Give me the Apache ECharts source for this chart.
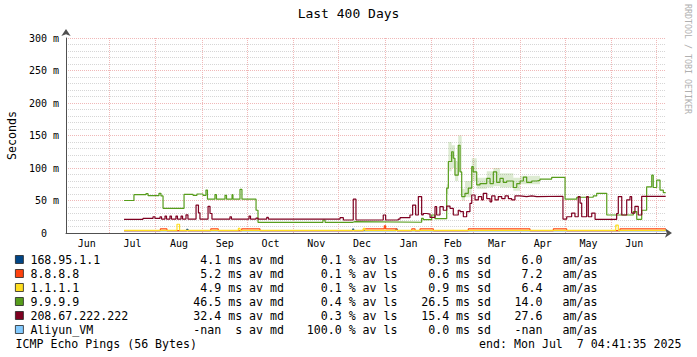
<!DOCTYPE html>
<html><head><meta charset="utf-8">
<script src="https://cdn.jsdelivr.net/npm/echarts@6/dist/echarts.min.js"></script>
<style>html,body{margin:0;padding:0;background:#fff}#c{width:697px;height:357px}</style>
</head><body><div id="c"></div>
<script>
const FONT = '"DejaVu Sans Mono", monospace';
// x values are days since 2024-06-01 00:00 (end = Mon Jul 7 2025 04:41)
const xStart = 1.2, xEnd = 401.2;
const monthStarts = [30, 61, 92, 122, 153, 183, 214, 245, 273, 304, 334, 365, 395];
const monthMids = [15, 45.5, 76.5, 107, 137.5, 168, 198.5, 229.5, 259, 288.5, 319, 349.5, 380];
const monthNames = ['Jun', 'Jul', 'Aug', 'Sep', 'Oct', 'Nov', 'Dec', 'Jan', 'Feb', 'Mar', 'Apr', 'May', 'Jun'];

const targetNames = ['168.95.1.1', '8.8.8.8', '1.1.1.1', '9.9.9.9', '208.67.222.222', 'Aliyun_VM'];
const targetColors = ['#004586', '#ff420e', '#ffde20', '#579d1c', '#7e0021', '#83caff'];

// median RTT in ms, [day, value] (value holds until next point)
const rtt168 = [[39.9,3.5],[81.7,5.7],[82.5,3.5],[192.3,6],[193,3.5],[221.2,6],[222,3.5],[401,3.5]];
const rtt8888 = [[39.9,3.8],[64.1,6.2],[68.5,3.8],[97.7,6.2],[102.7,3.8],[118.3,6.2],[130.5,3.8],[199.4,6.2],[213.4,11],[214.3,6.2],[221.7,3.8],[231.7,6.2],[233.9,3.8],[237.2,6.2],[246.1,3.8],[269.4,6.2],[310.5,3.8],[326.1,6.2],[335.0,3.8],[370.5,6.2],[401,6.2]];
const rtt1111 = [[39.9,4.1],[75.2,13.5],[76.9,4.1],[116.1,7],[117.2,4.1],[199.5,7],[200.5,4.1],[367.7,12],[369.4,4.1],[401,4.1]];
const rtt9999 = [[39.9,50],[46.5,59],[54.5,60.5],[55.9,57.5],[63.2,61],[64.5,57],[65.9,38],[79.9,59.5],[85.9,58],[88.5,60],[92.5,58],[94.5,66],[95.5,52],[100.5,59],[101.5,52],[107.2,58],[108.2,52],[111.9,59],[112.5,52],[117.2,67],[118.5,52],[127.9,35],[129.2,16.5],[172.5,20],[173.9,16.5],[192.5,17.5],[193.9,16.5],[238.3,22.6],[239.4,20.5],[245.0,27.7],[247.2,22],[255.0,69],[256.1,110],[258.3,125],[259.4,115],[260.5,89],[262.7,135],[263.9,94],[265.0,56],[267.2,61],[269.4,69],[271.7,102],[272.7,94],[275.0,74],[277.2,76],[281.7,84],[283.9,76],[286.1,94],[288.3,78],[290.5,84],[292.7,78],[295.0,80],[299.4,70],[301.7,76],[303.9,80],[306.1,86],[308.3,78],[311.7,80],[315.0,81],[317.2,83],[325.0,85.6],[333.9,52],[341.7,55],[352.7,57],[355.0,61],[361.7,27.7],[379.4,33],[381.7,21],[385.0,35],[388.3,71],[391.7,89],[392.7,70],[395.0,81.5],[397.2,66],[399.4,62],[401.0,62]];
const rtt2086 = [[39.9,21],[52.5,22.5],[59.2,25],[60.5,22.5],[63.9,25],[64.9,21.5],[67.2,26],[68.2,21.5],[70.5,26],[71.5,21.5],[74.5,26],[75.5,21.5],[77.9,26],[78.9,21.5],[81.2,28],[82.5,21.5],[87.9,43],[89.5,31],[90.5,21.5],[95.9,41],[97.2,30],[98.5,21.5],[110.5,25],[111.5,21.5],[123.2,26],[124.2,21.5],[127.9,23],[129.2,21.5],[135.0,24],[136.1,21.5],[183.9,23.6],[186.1,20],[192.7,52],[194.5,20],[212.7,27.7],[214.3,20],[222.7,21.5],[223.9,23.6],[230.5,27.7],[232.3,43],[234.3,27.7],[236.1,56],[238.3,28],[239.4,30],[241.7,29],[243.9,24],[247.2,40.5],[248.3,27.7],[250.5,40.5],[252.7,35],[255.0,41.5],[257.2,38],[259.4,27.7],[262.7,35],[263.9,33],[266.1,25],[268.3,32.8],[270.5,45.6],[271.7,58.5],[273.9,51],[276.1,56],[278.3,51],[279.4,61],[281.7,53],[283.9,48],[285.0,57],[287.2,51],[289.4,56],[291.7,53],[293.9,57],[296.1,53],[298.3,51],[300.5,57],[303.9,56],[308.3,57],[311.7,56],[315.0,56.5],[332.5,21.5],[335.0,25],[338.3,30.7],[340.5,25],[342.7,56],[343.9,46],[345.0,25],[348.3,56],[349.4,25],[351.7,30.7],[353.9,21],[368.3,30],[369.4,56],[371.7,27.7],[375.0,51],[377.2,56],[378.3,30.7],[380.5,41],[382.7,27.7],[385.0,56.5],[401.0,56.5]];
const rttAliyun = [];
// smoke (spread) of 9.9.9.9: [day, low ms, high ms]
const smoke9999 = [[255.0,60,75],[256.1,95,140],[258.3,100,135],[260.5,80,110],[262.7,95,150],[265.0,50,68],[267.2,55,80],[271.7,80,115],[275.0,68,85],[281.7,70,95],[286.1,72,100],[290.5,70,92],[299.4,65,85],[303.9,75,88],[317.2,75,88]];

const statMedian = ['4.1 ms av md', '5.2 ms av md', '4.9 ms av md', '46.5 ms av md', '32.4 ms av md', '-nan  s av md'];
const statLoss = ['0.1 % av ls', '0.1 % av ls', '0.1 % av ls', '0.4 % av ls', '0.3 % av ls', '100.0 % av ls'];
const statSd = ['0.3 ms sd', '0.6 ms sd', '0.9 ms sd', '26.5 ms sd', '15.4 ms sd', '0.0 ms sd'];
const statAmas = ['6.0', '7.2', '6.4', '14.0', '27.6', '-nan'];
const footerLeft = 'ICMP Echo Pings (56 Bytes)';
const footerRight = 'end: Mon Jul  7 04:41:35 2025';
const titleText = 'Last 400 Days';
const watermark = 'RRDTOOL / TOBI OETIKER';

const seriesData = [rtt168, rtt8888, rtt1111, rtt9999, rtt2086, rttAliyun];

const chart = echarts.init(document.getElementById('c'), null, {renderer: 'svg'});

// smoke segments: [dayFrom, dayTo, low, high]
const smokeSegs = smoke9999.slice(0, -1).map((r, i) => [r[0], smoke9999[i + 1][0], r[1], r[2]]);

const series = [{
  type: 'custom', silent: true, z: 1, data: smokeSegs,
  encode: {x: [0, 1], y: [2, 3]},
  renderItem: (params, api) => {
    const p0 = api.coord([api.value(0), api.value(3)]);
    const p1 = api.coord([api.value(1), api.value(2)]);
    return {type: 'rect', shape: {x: p0[0], y: p0[1], width: p1[0] - p0[0], height: p1[1] - p0[1]},
            style: {fill: 'rgba(87,157,28,0.2)'}};
  }
}];
targetNames.forEach((n, i) => {
  series.push({name: n, type: 'line', step: 'end', symbol: 'none', silent: true, z: 2,
    data: seriesData[i], color: targetColors[i],
    lineStyle: {color: targetColors[i], width: 1.2}, itemStyle: {color: targetColors[i]}});
});

const graphic = [];
const rowY0 = 259.5, rowStep = 14;
const txt = (x, y, text, align, size, color) => ({type: 'text', x: x, y: y, silent: true,
  style: {text: text, fill: color || '#000', font: size + 'px ' + FONT, textAlign: align, align: align,
          textVerticalAlign: 'middle', verticalAlign: 'middle'}});
targetNames.forEach((n, i) => {
  const y = rowY0 + rowStep * i;
  graphic.push(txt(284, y, statMedian[i], 'right', 11.6));
  graphic.push(txt(397.5, y, statLoss[i], 'right', 11.6));
  graphic.push(txt(491, y, statSd[i], 'right', 11.6));
  graphic.push(txt(542.5, y, statAmas[i], 'right', 11.6));
  graphic.push(txt(562.5, y, 'am/as', 'left', 11.6));
});
graphic.push(txt(15.5, 343.5, footerLeft, 'left', 11.6));
graphic.push(txt(681.5, 343.5, footerRight, 'right', 11.6));
const wm = txt(688, 59, watermark, 'center', 8.3, '#b0b0b0');
wm.rotation = -Math.PI / 2;
graphic.push(wm);

chart.setOption({
  animation: false,
  backgroundColor: '#fff',
  title: {text: titleText, left: 'center', top: 7, padding: 0,
          textStyle: {fontFamily: FONT, fontSize: 13, fontWeight: 'normal', color: '#000'}},
  grid: {left: 66, top: 38, width: 600, height: 195, containLabel: false, outerBoundsMode: 'none'},
  legend: {data: targetNames, orient: 'vertical', left: 15, top: 252.5, padding: 0, itemGap: 0,
           itemWidth: 8, itemHeight: 8, icon: 'rect', selectedMode: false,
           itemStyle: {borderColor: '#222', borderWidth: 0.8},
           textStyle: {fontFamily: FONT, fontSize: 11.6, color: '#000', lineHeight: 14, padding: [0, 0, 0, 2]}},
  xAxis: {type: 'value', min: xStart, max: xEnd,
    axisLine: {show: true, onZero: false, lineStyle: {color: '#505050', width: 1},
               symbol: ['none', 'arrow'], symbolSize: [7, 7], symbolOffset: [0, 6]},
    axisTick: {show: false, customValues: monthStarts},
    axisLabel: {customValues: monthMids, formatter: v => monthNames[monthMids.indexOf(v)],
                fontFamily: FONT, fontSize: 10, color: '#000', margin: 5},
    splitLine: {show: true, lineStyle: {color: '#f0b8b8', type: [1, 1], width: 1}}},
  yAxis: {type: 'value', min: 0, max: 300, interval: 50,
    name: 'Seconds', nameLocation: 'middle', nameGap: 46,
    nameTextStyle: {fontFamily: FONT, fontSize: 11.6, color: '#000'},
    axisLine: {show: true, lineStyle: {color: '#505050', width: 1},
               symbol: ['none', 'arrow'], symbolSize: [7, 7], symbolOffset: [0, 9]},
    axisTick: {show: false},
    axisLabel: {formatter: v => (v === 0 ? '{z|0}' : v + ' m'), fontFamily: FONT, fontSize: 10, color: '#000', margin: 7,
                rich: {z: {fontFamily: FONT, fontSize: 10, color: '#000', padding: [0, 12, 0, 0]}}},
    splitLine: {show: true, lineStyle: {color: '#f0b8b8', type: [1, 1], width: 1}},
    minorTick: {show: false, splitNumber: 5},
    minorSplitLine: {show: true, lineStyle: {color: '#d6d6d6', type: [1, 1], width: 1}}},
  series: series,
  graphic: graphic
});
</script></body></html>
